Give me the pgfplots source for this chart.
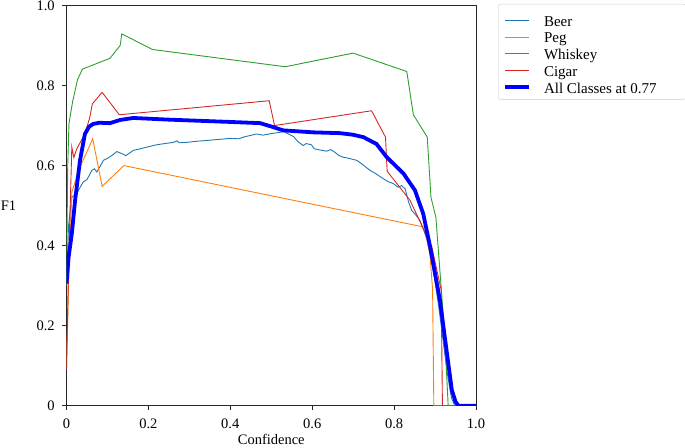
\documentclass[border=0pt]{standalone}
\usepackage{pgfplots}
\pgfplotsset{compat=1.18}
\usepackage{fontspec}
\setmainfont{Liberation Serif}
\definecolor{cBeer}{HTML}{1F77B4}
\definecolor{cPeg}{HTML}{FF7F0E}
\definecolor{cWhiskey}{HTML}{2CA02C}
\definecolor{cCigar}{HTML}{D62728}
\begin{document}
\fontsize{14}{17}\selectfont
\begin{tikzpicture}
\begin{axis}[
  at={(66.5pt,41.3pt)}, anchor=south west,
  scale only axis, width=409.5pt, height=400.2pt,
  xmin=0, xmax=1, ymin=0, ymax=1,
  axis line style={black!85, line width=0.8pt},
  xtick={0,0.2,0.4,0.6,0.8,1.0}, xticklabels={0,0.2,0.4,0.6,0.8,1.0},
  ytick={0,0.2,0.4,0.6,0.8,1.0}, yticklabels={0,0.2,0.4,0.6,0.8,1.0},
  tick align=outside, xtick pos=bottom, ytick pos=left,
  major tick length=4pt, tick style={black!85, line width=0.8pt},
  /pgf/number format/assume math mode=true,
  ticklabel style={font=\fontsize{14.5}{17}\selectfont},
  xticklabel style={yshift=-4pt},
  yticklabel style={xshift=-3pt},
  xlabel={Confidence},
  xlabel style={at={(axis description cs:0.5,0)}, anchor=north, inner sep=0pt, yshift=-28.5pt, font=\fontsize{14.5}{17}\selectfont},
  ylabel={F1},
  ylabel style={rotate=-90, at={(axis description cs:0,0.5)}, anchor=center, inner sep=0pt, xshift=-58pt, font=\fontsize{14.5}{17}\selectfont},
  legend style={at={(1,1)}, anchor=north west, xshift=22pt, yshift=1.5pt,
    draw=black!20, rounded corners=2pt, inner xsep=5pt, inner ysep=6pt,
    font=\fontsize{15}{17}\selectfont,
    nodes={inner sep=0pt, text height=16pt, text depth=0pt},
    row sep=0.8pt,
    /tikz/every odd column/.append style={column sep=13pt}},
  legend cell align=left,
  legend image code/.code={\draw[#1] (0pt,-2pt) -- (24pt,-2pt);},
]
\addplot[cBeer, line width=0.9pt] coordinates {
(0,0.30)(0.005,0.45)(0.013,0.521)(0.025,0.53)(0.033,0.545)(0.041,0.559)(0.05,0.565)
(0.062,0.588)(0.068,0.592)(0.074,0.584)(0.082,0.598)(0.09,0.613)(0.10,0.618)(0.112,0.626)
(0.123,0.635)(0.135,0.630)(0.145,0.625)(0.155,0.632)(0.163,0.638)(0.18,0.642)(0.204,0.648)
(0.22,0.652)(0.24,0.655)(0.261,0.658)(0.27,0.662)(0.275,0.657)(0.293,0.658)(0.32,0.661)
(0.345,0.663)(0.367,0.665)(0.40,0.668)(0.42,0.667)(0.435,0.672)(0.448,0.675)(0.464,0.679)
(0.48,0.676)(0.50,0.680)(0.521,0.683)(0.53,0.685)(0.542,0.679)(0.555,0.672)(0.565,0.660)
(0.578,0.650)(0.585,0.655)(0.598,0.652)(0.605,0.642)(0.619,0.639)(0.635,0.636)(0.645,0.640)
(0.656,0.633)(0.665,0.625)(0.676,0.621)(0.69,0.618)(0.709,0.613)(0.72,0.605)(0.73,0.597)
(0.741,0.588)(0.755,0.580)(0.774,0.567)(0.785,0.560)(0.798,0.555)(0.81,0.546)(0.818,0.550)
(0.827,0.542)(0.835,0.510)(0.843,0.488)(0.852,0.478)(0.863,0.463)(0.872,0.440)(0.880,0.415)
(0.89,0.37)(0.90,0.31)(0.91,0.24)(0.92,0.16)(0.93,0.08)(0.94,0.02)(0.948,0)(1.0,0)};
\addlegendentry{Beer}
\addplot[cPeg, line width=0.9pt] coordinates {
(0,0.09)(0.005,0.30)(0.013,0.534)(0.033,0.596)(0.064,0.667)(0.087,0.548)(0.140,0.600)
(0.875,0.446)(0.888,0.372)(0.894,0.29)(0.897,0)(1.0,0)};
\addlegendentry{Peg}
\addplot[cWhiskey, line width=0.9pt] coordinates {
(0,0.30)(0.003,0.6)(0.006,0.705)(0.015,0.76)(0.027,0.815)(0.039,0.841)(0.106,0.868)
(0.131,0.90)(0.135,0.929)(0.21,0.89)(0.534,0.847)(0.70,0.881)(0.831,0.835)(0.847,0.727)
(0.881,0.671)(0.890,0.521)(0.895,0.50)(0.902,0.471)(0.924,0.172)(0.932,0)(1,0)};
\addlegendentry{Whiskey}
\addplot[cCigar, line width=0.9pt] coordinates {
(0,0.09)(0.005,0.35)(0.013,0.646)(0.018,0.62)(0.025,0.642)(0.045,0.679)(0.057,0.721)
(0.063,0.754)(0.087,0.783)(0.129,0.727)(0.495,0.762)(0.508,0.700)(0.745,0.737)(0.779,0.671)
(0.783,0.586)(0.839,0.513)(0.892,0.397)(0.915,0.289)(0.918,0)(1,0)};
\addlegendentry{Cigar}
\addplot[blue, line width=3.8pt] coordinates {
(0,0.305)(0.005,0.37)(0.013,0.43)(0.021,0.513)(0.033,0.613)(0.045,0.679)(0.055,0.697)
(0.065,0.704)(0.08,0.707)(0.106,0.706)(0.131,0.714)(0.163,0.719)(0.245,0.715)(0.40,0.709)
(0.473,0.706)(0.505,0.696)(0.529,0.688)(0.603,0.683)(0.668,0.681)(0.70,0.677)(0.725,0.671)
(0.757,0.654)(0.782,0.621)(0.823,0.580)(0.851,0.538)(0.871,0.480)(0.888,0.397)(0.912,0.263)
(0.928,0.139)(0.941,0.039)(0.95,0.01)(0.957,0)(1,0)};
\addlegendentry{All Classes at 0.77\hspace*{24pt}}
\end{axis}
\pgfresetboundingbox
\path[use as bounding box] (0,0) rectangle (685pt,447pt);
\end{tikzpicture}
\end{document}
